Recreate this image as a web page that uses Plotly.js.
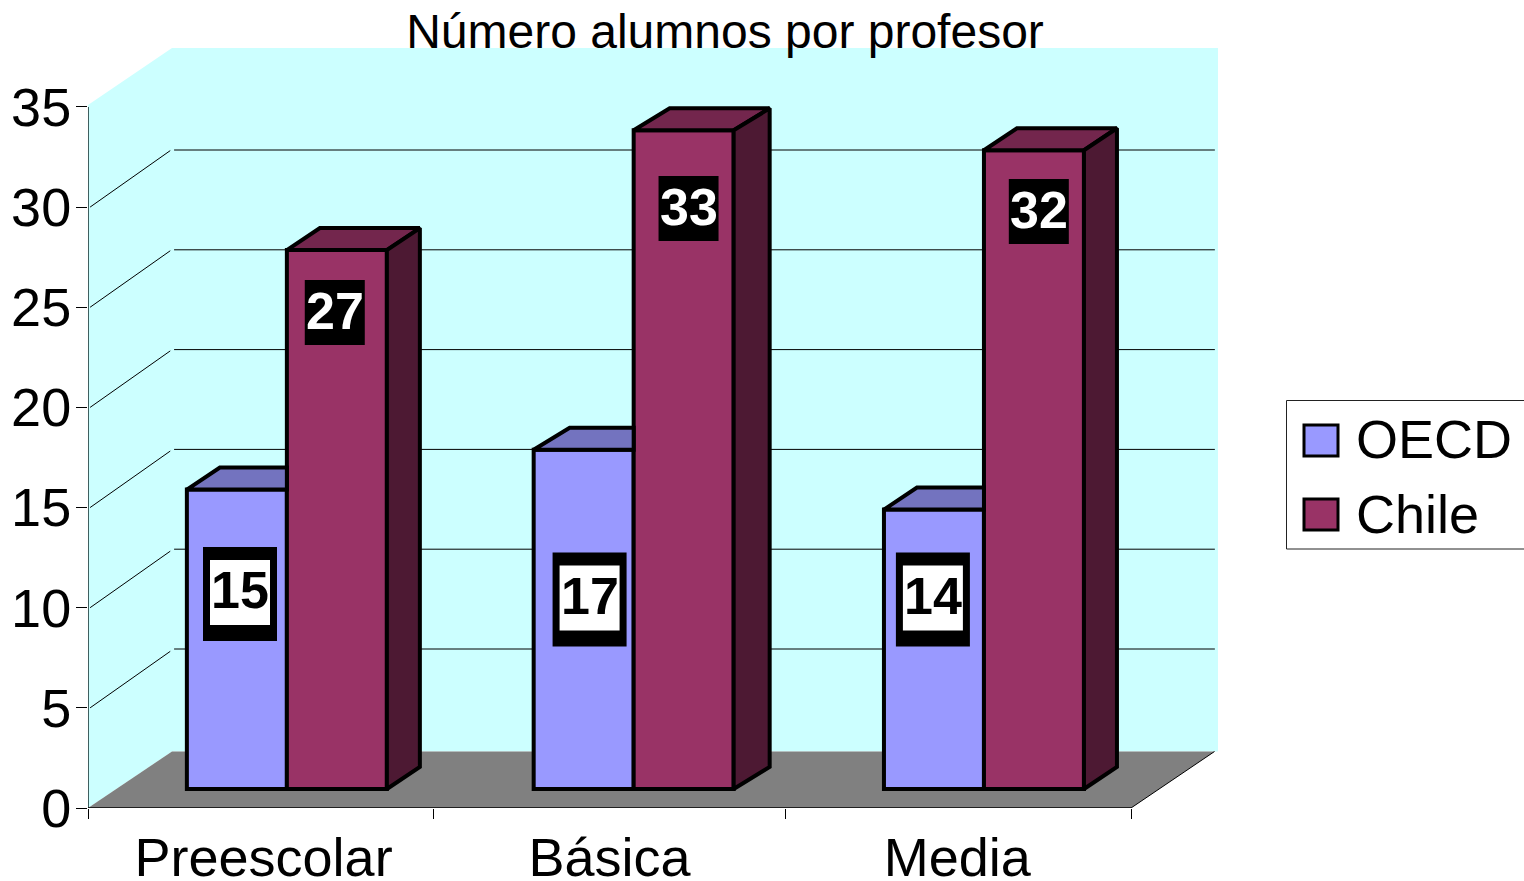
<!DOCTYPE html>
<html><head><meta charset="utf-8">
<script src="https://cdn.plot.ly/plotly-3.0.1.min.js"></script>
<style>html,body{margin:0;padding:0;background:#fff;overflow:hidden}</style>
</head><body><div id="chart" style="width:1524px;height:881px"></div>
<script>
// ---- data ----
const categories = ['Preescolar', 'Básica', 'Media'];
const seriesNames = ['OECD', 'Chile'];
const oecd = [15, 17, 14];
const chile = [27, 33, 32];
const yTicks = [0, 5, 10, 15, 20, 25, 30, 35];
const gridValues = [5, 10, 15, 20, 25, 30];
const titleText = 'Número alumnos por profesor';

// ---- label placement in chart units ----
const oecdLabelOffsetX = [0.009, 0.017, -0.003];
const chileLabelOffsetX = [-0.006, 0.014, 0.014];
const oecdLabelY = [9.77, 9.49, 9.49];
const chileLabelY = [23.87, 29.08, 28.93];

// ---- geometry / style ----
const W = 1524, H = 881;
const L = 88, R = 1218, T = 48, B = 808;
const xUnit = 347.67, yUnit = 20.03;
const barYUnit = 19.96, barZero = 789;
const catCentres = [0.572, 1.5695, 2.577];
const catBoundaries = [0, 0.995, 2.005, 3];
const labelCentres = [0.505, 1.5, 2.5];
const barW = 100 / xUnit;
const barDXs = [33 / xUnit, 36 / xUnit, 33 / xUnit], barDY = 22 / barYUnit;
const wallDX = 84 / xUnit, wallDY = 56.5 / yUnit;
const gridShift = 2.014;
const xMax = (R - L) / xUnit, yMax = (B - T) / yUnit;
const COL = {
  wall: '#CCFFFF', floor: '#808080',
  oecd: '#9999FF', oecdTop: '#7373BF', chile: '#993366', chileTop: '#73264D', chileSide: '#4D1933'
};
const FONT = '"Liberation Sans", Arial, sans-serif';
const poly = (pts) => 'M' + pts.map(p => p[0] + ',' + p[1]).join('L') + 'Z';

const shapes = [];
shapes.push({type:'path', xref:'x', yref:'y', layer:'below', line:{width:0}, fillcolor:COL.wall,
  path: poly([[0,0],[0,35.1],[wallDX,yMax],[xMax,yMax],[xMax,wallDY],[wallDX,wallDY]])});
shapes.push({type:'path', xref:'x', yref:'y', layer:'below', line:{width:0}, fillcolor:COL.floor,
  path: poly([[0,0],[wallDX,wallDY],[xMax-0.01,wallDY],[3,0]])});
gridValues.forEach(v => {
  shapes.push({type:'line', xref:'x', yref:'y', layer:'below', line:{color:'#000',width:1},
    x0:0.006, y0:v, x1:wallDX-0.005, y1:v+wallDY});
  shapes.push({type:'line', xref:'x', yref:'y2', layer:'below', line:{color:'#000',width:1},
    x0:wallDX+0.006, y0:v+gridShift, x1:xMax-0.009, y1:v+gridShift});
});
shapes.push({type:'line', xref:'x', yref:'y', layer:'below', line:{color:'#000',width:1},
  x0:3, y0:0, x1:xMax-0.01, y1:wallDY});

const traces = [];
traces.push({type:'scatter', mode:'lines', x:[0,0], y:[35,-0.5], yaxis:'y', xaxis:'x', cliponaxis:false,
  line:{color:'#3f5f5f',width:2}, showlegend:false, hoverinfo:'skip'});
traces.push({type:'scatter', mode:'lines', x:[0,3], y:[0,0], yaxis:'y', xaxis:'x', cliponaxis:false,
  line:{color:'#000',width:1.5}, showlegend:false, hoverinfo:'skip'});

const OUT = 4;
traces.push({type:'bar', name:seriesNames[0], x:catCentres.map(c=>c-barW/2), y:oecd, width:barW, yaxis:'y2', xaxis:'x',
  marker:{color:COL.oecd, line:{color:'#000',width:OUT}}, showlegend:false, hoverinfo:'skip'});
traces.push({type:'bar', name:seriesNames[1], x:catCentres.map(c=>c+barW/2), y:chile, width:barW, yaxis:'y2', xaxis:'x',
  marker:{color:COL.chile, line:{color:'#000',width:OUT}}, showlegend:false, hoverinfo:'skip'});

function face(xs, ys, color){
  traces.push({type:'scatter', mode:'lines', x:xs, y:ys, fill:'toself', fillcolor:color, yaxis:'y2', xaxis:'x',
    line:{color:'#000',width:OUT,shape:'linear'}, showlegend:false, hoverinfo:'skip', cliponaxis:false});
}
categories.forEach((c,i)=>{
  const m = catCentres[i], barDX = barDXs[i];
  const a = oecd[i];
  face([m-barW,m-barW+barDX,m,m,m-barW],[a,a+barDY,a+barDY,a,a],COL.oecdTop);
  const b = chile[i];
  face([m,m+barDX,m+barW+barDX,m+barW,m],[b,b+barDY,b+barDY,b,b],COL.chileTop);
  face([m+barW,m+barW+barDX,m+barW+barDX,m+barW,m+barW],[0,barDY,b+barDY,b,0],COL.chileSide);
});

const annotations = [];
const box = (x,y,w,h,yOff,color) => shapes.push({type:'rect', layer:'above', xref:'x', yref:'y2', xsizemode:'pixel', ysizemode:'pixel',
  xanchor:x, yanchor:y, x0:-w/2, x1:w/2, y0:-h/2+yOff, y1:h/2+yOff, fillcolor:color, line:{width:0}});
categories.forEach((c,i)=>{
  const oX = catCentres[i]-barW/2+oecdLabelOffsetX[i], oY = oecdLabelY[i];
  box(oX,oY,74,94,0,'#000');
  box(oX,oY,60,65,1.5,'#fff');
  annotations.push({xref:'x', yref:'y2', x:oX, y:oY, yshift:3.5, showarrow:false, text:'<b>'+oecd[i]+'</b>',
    font:{family:FONT,size:52,color:'#000'}});
  const cX = catCentres[i]+barW/2+chileLabelOffsetX[i], cY = chileLabelY[i];
  box(cX,cY,60,65,0,'#000');
  annotations.push({xref:'x', yref:'y2', x:cX, y:cY, yshift:2, showarrow:false, text:'<b>'+chile[i]+'</b>',
    font:{family:FONT,size:52,color:'#fff'}});
});

const px = v => (v-L)/(R-L), py = v => 1-(v-T)/(B-T);
shapes.push({type:'rect', xref:'paper', yref:'paper', layer:'above', x0:px(1286.5), x1:px(1560), y0:py(400.5), y1:py(549),
  fillcolor:'#fff', line:{color:'#222',width:1}});
[[1304,1338,425,456,COL.oecd,439],[1304,1338,499,530,COL.chile,514]].forEach((s,i)=>{
  shapes.push({type:'rect', xref:'paper', yref:'paper', layer:'above', x0:px(s[0]), x1:px(s[1]), y0:py(s[2]), y1:py(s[3]),
    fillcolor:s[4], line:{color:'#000',width:3}});
  annotations.push({xref:'paper', yref:'paper', x:px(1354), y:py(s[5]), xanchor:'left', yanchor:'middle', showarrow:false,
    text:seriesNames[i], font:{family:FONT,size:54,color:'#000'}});
});

const layout = {
  width:W, height:H, paper_bgcolor:'#fff', plot_bgcolor:'#fff', showlegend:false,
  margin:{l:L, r:W-R, t:T, b:H-B, pad:0, autoexpand:false},
  title:{text:titleText, font:{family:FONT,size:48,color:'#000'}, xref:'container', yref:'container',
    x:725/W, xanchor:'center', y:1-31/H, yanchor:'middle', pad:{t:0,b:0,l:0,r:0}},
  barmode:'overlay',
  xaxis:{range:[0,xMax], tickmode:'array', tickvals:labelCentres, ticktext:categories, ticks:'', showgrid:false, zeroline:false, showline:false,
    ticklabelstandoff:13, tickfont:{family:FONT,size:54,color:'#000'},
    minor:{tickmode:'array', tickvals:catBoundaries, ticks:'outside', ticklen:10, tickwidth:1, tickcolor:'#000', showgrid:false}},
  yaxis:{range:[0,yMax], tickmode:'array', tickvals:yTicks, ticks:'outside', ticklen:11, tickwidth:1, tickcolor:'#000', showgrid:false, zeroline:false, showline:false,
    ticklabelstandoff:-6, tickfont:{family:FONT,size:54,color:'#000'}},
  yaxis2:{overlaying:'y', visible:false, range:[-(B-barZero)/barYUnit,(barZero-T)/barYUnit]},
  shapes, annotations
};
Plotly.newPlot('chart', traces, layout, {displayModeBar:false, staticPlot:true});
</script></body></html>
